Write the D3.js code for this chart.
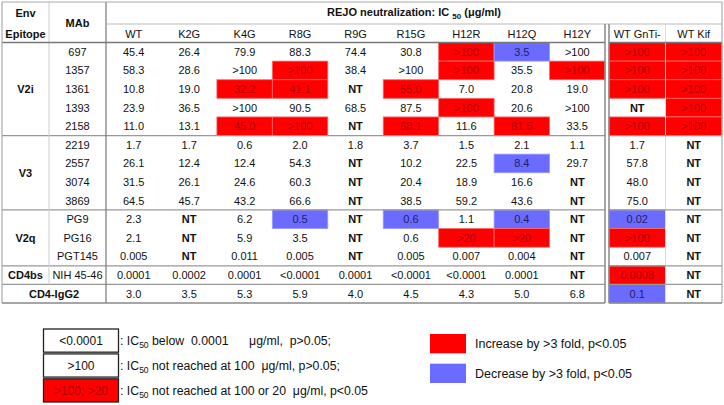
<!DOCTYPE html>
<html><head><meta charset="utf-8">
<script src="https://cdn.jsdelivr.net/npm/d3@7"></script>
<style>body{margin:0;background:#fff}svg{display:block;font-family:"Liberation Sans",Arial,sans-serif}.pre{white-space:pre}</style>
</head><body><svg id="c" width="724" height="405"></svg>
<script>
// ---------- data ----------
const columns = ["WT","K2G","K4G","R8G","R9G","R15G","H12R","H12Q","H12Y"];
const extraColumns = ["WT GnTi-","WT Kif"];
const epitopes = ["V2i","V2i","V2i","V2i","V2i","V3","V3","V3","V3","V2q","V2q","V2q","CD4bs",null];
const mabs = ["697","1357","1361","1393","2158","2219","2557","3074","3869","PG9","PG16","PGT145","NIH 45-46","CD4-IgG2"];
const ic50 = [
  ["45.4","26.4","79.9","88.3","74.4","30.8",">100","3.5",">100",">100",">100"],
  ["58.3","28.6",">100",">100","38.4",">100",">100","35.5",">100",">100",">100"],
  ["10.8","19.0","32.2","41.1","NT","55.0","7.0","20.8","19.0",">100",">100"],
  ["23.9","36.5",">100","90.5","68.5","87.5",">100","20.6",">100","NT",">100"],
  ["11.0","13.1","45.0",">100","NT","68.1","11.6","81.5","33.5",">100",">100"],
  ["1.7","1.7","0.6","2.0","1.8","3.7","1.5","2.1","1.1","1.7","NT"],
  ["26.1","12.4","12.4","54.3","NT","10.2","22.5","8.4","29.7","57.8","NT"],
  ["31.5","26.1","24.6","60.3","NT","20.4","18.9","16.6","NT","48.0","NT"],
  ["64.5","45.7","43.2","66.6","NT","38.5","59.2","43.6","NT","75.0","NT"],
  ["2.3","NT","6.2","0.5","NT","0.6","1.1","0.4","NT","0.02","NT"],
  ["2.1","NT","5.9","3.5","NT","0.6",">20",">20","NT",">100","NT"],
  ["0.005","NT","0.011","0.005","NT","0.005","0.007","0.004","NT","0.007","NT"],
  ["0.0001","0.0002","0.0001","<0.0001","0.0001","<0.0001","<0.0001","0.0001","NT","0.0008","NT"],
  ["3.0","3.5","5.3","5.9","4.0","4.5","4.3","5.0","6.8","0.1","NT"]
];
// "+" = increase by >3 fold, "-" = decrease by >3 fold
const change = [
  ["","","","","","","+","-","","+","+"],
  ["","","","+","","","+","","+","+","+"],
  ["","","+","+","","+","","","","+","+"],
  ["","","","","","","+","","","","+"],
  ["","","+","+","","+","","+","","+","+"],
  ["","","","","","","","","","",""],
  ["","","","","","","","-","","",""],
  ["","","","","","","","","","",""],
  ["","","","","","","","","","",""],
  ["","","","-","","-","","-","","-",""],
  ["","","","","","","+","+","","+",""],
  ["","","","","","","","","","",""],
  ["","","","","","","","","","+",""],
  ["","","","","","","","","","-",""]
];
const legendBoxes = ["<0.0001",">100",">100; >20"];
const legendBoxText = [
  ["IC","50"," below  0.0001      μg/ml,  p>0.05;"],
  ["IC","50"," not reached at 100  μg/ml, p>0.05;"],
  ["IC","50"," not reached at 100 or 20  μg/ml, p<0.05"]
];
const legendColors = [["+","Increase by >3 fold, p<0.05"],["-","Decrease by >3 fold, p<0.05"]];

// ---------- layout ----------
const svg = d3.select("#c");
const RED = "#ff0000", BLUE = "#6b6bff";
const fill = {"+":RED,"-":BLUE};
const textCol = {"+":"#b00000","-":"#20206a","":"#111"};
const top0 = 2, h1 = 24, h2 = 42.5, bottom = 303;
const xL = 2, xEnv = 49, xMab = 106, xMainR = 605, xBox = 609, xR = 722;

const x = d3.scaleBand().domain(columns).range([xMab, xMainR]);
const xe = d3.scaleBand().domain(extraColumns).range([xBox, xR]);
const y = d3.scaleBand().domain(mabs).range([h2, bottom]);
const allCols = columns.concat(extraColumns);
const cx = c => columns.includes(c) ? x(c) : xe(c);
const cw = c => columns.includes(c) ? x.bandwidth() : xe.bandwidth();

// cells
const cells = [];
mabs.forEach((m,i) => allCols.forEach((c,j) => cells.push({m, c, v: ic50[i][j], s: change[i][j]})));

const g = svg.append("g");
g.selectAll("rect.cell").data(cells.filter(d => d.s)).join("rect")
  .attr("x", d => cx(d.c)).attr("y", d => y(d.m))
  .attr("width", d => cw(d.c)).attr("height", y.bandwidth())
  .attr("fill", d => fill[d.s]).attr("stroke", d => d.s==="+" ? "#ff6a6a" : "#9a9aff").attr("stroke-width", 0.8);

g.selectAll("text.cell").data(cells).join("text")
  .attr("x", d => cx(d.c) + cw(d.c)/2).attr("y", d => y(d.m) + y.bandwidth()/2)
  .attr("dy","0.36em").attr("text-anchor","middle")
  .attr("font-size", 11).attr("font-weight", d => d.v==="NT" ? "bold" : "normal")
  .attr("fill", d => textCol[d.s]).text(d => d.v);

// light divider in right box
g.append("line").attr("x1", xe(extraColumns[1])).attr("x2", xe(extraColumns[1]))
  .attr("y1", h1).attr("y2", bottom).attr("stroke","#ddd").attr("stroke-width",1);

// MAb labels
g.selectAll("text.mab").data(mabs.filter((m,i)=>epitopes[i]!==null)).join("text")
  .attr("x", (xEnv + xMab)/2).attr("y", d => y(d) + y.bandwidth()/2).attr("dy","0.36em")
  .attr("text-anchor","middle").attr("font-size",11).attr("fill","#111").text(d => d);

// epitope groups
const groups = [];
epitopes.forEach((e,i) => {
  const last = groups[groups.length-1];
  if (last && last.e === e && e !== null) last.end = i; else groups.push({e, start:i, end:i});
});
groups.forEach(gr => {
  const y0 = y(mabs[gr.start]), y1 = y(mabs[gr.end]) + y.bandwidth();
  const label = gr.e === null ? mabs[gr.start] : gr.e;
  const xc = gr.e === null ? (xL + xMab)/2 : (xL + xEnv)/2;
  g.append("text").attr("x", xc).attr("y", (y0+y1)/2).attr("dy","0.36em")
    .attr("text-anchor","middle").attr("font-size",11).attr("font-weight","bold").attr("fill","#111").text(label);
  if (gr.start > 0) {
    [[xL, xMainR],[xBox, xR]].forEach(([a,b]) =>
      g.append("line").attr("x1",a).attr("x2",b).attr("y1",y0).attr("y2",y0).attr("stroke","#999").attr("stroke-width",1.2));
  }
});

// headers
const hdr = g.append("g").attr("font-size",11).attr("fill","#111");
hdr.append("text").attr("x",(xL+xEnv)/2).attr("y",13).attr("dy","0.36em").attr("text-anchor","middle").attr("font-weight","bold").text("Env");
hdr.append("text").attr("x",(xL+xEnv)/2).attr("y",34).attr("dy","0.36em").attr("text-anchor","middle").attr("font-weight","bold").text("Epitope");
hdr.append("text").attr("x",(xEnv+xMab)/2).attr("y",23).attr("dy","0.36em").attr("text-anchor","middle").attr("font-weight","bold").text("MAb");
const title = hdr.append("text").attr("x",(xMab+xR)/2).attr("y",12).attr("dy","0.36em").attr("text-anchor","middle").attr("font-weight","bold");
title.append("tspan").text("REJO neutralization: IC ");
title.append("tspan").attr("font-size",8).attr("dy",3).text("50");
title.append("tspan").attr("dy",-3).text(" (μg/ml)");
hdr.selectAll("text.col").data(allCols).join("text")
  .attr("x", d => cx(d) + cw(d)/2).attr("y", (h1+h2)/2+0.5).attr("dy","0.36em")
  .attr("text-anchor","middle").text(d => d);

// grid lines
const line = (x1,y1,x2,y2,c,w) => g.append("line").attr("x1",x1).attr("y1",y1).attr("x2",x2).attr("y2",y2).attr("stroke",c).attr("stroke-width",w);
line(xEnv, top0, xEnv, y(mabs[mabs.length-1]), "#ccc", 1);
line(xMab, top0, xMab, bottom, "#777", 1.2);
line(xMab, h1, xR, h1, "#bbb", 1);
line(xL, h2, xMainR, h2, "#777", 1.5);
line(xBox, h2, xR, h2, "#777", 1.5);
line(xL, top0, xR, top0, "#aaa", 1.2);
line(xL, top0, xL, bottom, "#aaa", 1.2);
line(xL, bottom, xMainR, bottom, "#888", 1.5);
line(xMainR, h1, xMainR, bottom, "#888", 1.5);
line(xBox, h1, xBox, bottom, "#888", 1.5);
line(xR, top0, xR, bottom, "#aaa", 1.2);
line(xBox, bottom, xR, bottom, "#888", 1.5);

// legend (left)
const lg = svg.append("g");
const ly = d3.scaleBand().domain(legendBoxes).range([329, 402]).paddingInner(0.07);
legendBoxes.forEach((b,i) => {
  const red = i === 2;
  lg.append("rect").attr("x",43.5).attr("y",ly(b)).attr("width",75).attr("height",ly.bandwidth())
    .attr("fill", red ? RED : "#fff").attr("stroke","#222").attr("stroke-width",1.3);
  lg.append("text").attr("x",81).attr("y",ly(b)+ly.bandwidth()/2).attr("dy","0.36em").attr("text-anchor","middle")
    .attr("font-size",12).attr("fill", red ? "#b00000" : "#111").text(b);
  const t = lg.append("text").attr("class","pre").attr("x",120).attr("y",ly(b)+ly.bandwidth()/2).attr("dy","0.36em").attr("font-size",12.3).attr("fill","#111");
  t.append("tspan").text(": " + legendBoxText[i][0]);
  t.append("tspan").attr("font-size",8.5).attr("dy",3).text(legendBoxText[i][1]);
  t.append("tspan").attr("dy",-3).text(legendBoxText[i][2]);
});
// legend (right)
const ry = d3.scaleBand().domain(legendColors.map(d=>d[1])).range([334, 383]).paddingInner(0.35);
legendColors.forEach(([s,label]) => {
  lg.append("rect").attr("x",430).attr("y",ry(label)).attr("width",36).attr("height",ry.bandwidth()).attr("fill",fill[s]);
  lg.append("text").attr("x",475).attr("y",ry(label)+ry.bandwidth()/2).attr("dy","0.36em").attr("font-size",12.5).attr("fill","#111").text(label);
});
</script></body></html>
